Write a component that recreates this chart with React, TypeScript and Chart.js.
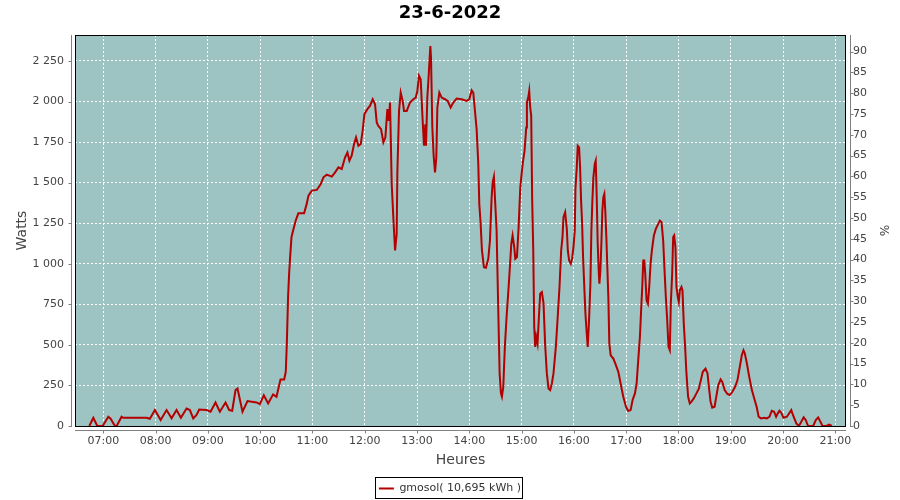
import React, { useEffect, useRef } from "react";
import { Chart, registerables } from "chart.js";

Chart.register(...registerables);

const TITLE = "23-6-2022";
const SERIES_LABEL = "gmosol( 10,695 kWh )";
const X_TITLE = "Heures";
const Y_TITLE = "Watts";
const Y2_TITLE = "%";

// time of day in decimal hours
const HOURS = [
  6.733, 6.809, 6.885, 6.987, 7.096, 7.14, 7.223, 7.255, 7.35, 7.38, 7.828, 7.89, 7.987, 8.096, 8.21, 8.306,
  8.401, 8.484, 8.592, 8.656, 8.72, 8.783, 8.834, 8.975, 9.051, 9.146, 9.229, 9.338, 9.408, 9.465, 9.529,
  9.567, 9.662, 9.758, 9.93, 9.994, 10.07, 10.153, 10.248, 10.312, 10.389, 10.459, 10.49, 10.51, 10.535,
  10.554, 10.573, 10.599, 10.63, 10.68, 10.73, 10.84, 10.89, 10.924, 10.987, 11.083, 11.16, 11.21, 11.274,
  11.37, 11.433, 11.497, 11.56, 11.624, 11.669, 11.707, 11.75, 11.796, 11.834, 11.879, 11.924, 11.96,
  11.994, 12.05, 12.1, 12.153, 12.197, 12.229, 12.26, 12.312, 12.357, 12.395, 12.433, 12.459, 12.484,
  12.516, 12.548, 12.58, 12.611, 12.624, 12.656, 12.688, 12.726, 12.752, 12.803, 12.866, 12.93, 12.975,
  13.006, 13.038, 13.07, 13.108, 13.134, 13.159, 13.172, 13.197, 13.223, 13.242, 13.255, 13.268, 13.293,
  13.318, 13.344, 13.369, 13.389, 13.427, 13.471, 13.535, 13.586, 13.643, 13.694, 13.758, 13.854, 13.949,
  14.0, 14.045, 14.076, 14.108, 14.14, 14.172, 14.191, 14.217, 14.242, 14.28, 14.318, 14.363, 14.395,
  14.427, 14.446, 14.471, 14.49, 14.522, 14.554, 14.58, 14.605, 14.624, 14.65, 14.68, 14.713, 14.752,
  14.784, 14.803, 14.828, 14.86, 14.879, 14.911, 14.943, 14.975, 15.0, 15.025, 15.057, 15.089, 15.102,
  15.127, 15.146, 15.165, 15.184, 15.203, 15.223, 15.242, 15.261, 15.28, 15.305, 15.331, 15.356, 15.388,
  15.42, 15.451, 15.483, 15.515, 15.547, 15.579, 15.61, 15.655, 15.687, 15.725, 15.757, 15.782, 15.801,
  15.833, 15.865, 15.884, 15.909, 15.941, 15.966, 15.992, 16.017, 16.03, 16.055, 16.074, 16.1, 16.119,
  16.138, 16.157, 16.176, 16.202, 16.221, 16.246, 16.265, 16.29, 16.316, 16.335, 16.354, 16.373, 16.399,
  16.418, 16.437, 16.456, 16.475, 16.488, 16.507, 16.526, 16.545, 16.564, 16.583, 16.602, 16.621, 16.64,
  16.659, 16.678, 16.704, 16.755, 16.793, 16.85, 16.894, 16.945, 16.996, 17.04, 17.085, 17.123, 17.168,
  17.2, 17.231, 17.263, 17.289, 17.308, 17.327, 17.346, 17.365, 17.39, 17.416, 17.441, 17.467, 17.492,
  17.53, 17.568, 17.613, 17.645, 17.677, 17.708, 17.734, 17.759, 17.785, 17.81, 17.835, 17.854, 17.88,
  17.899, 17.918, 17.943, 17.962, 17.988, 18.007, 18.026, 18.058, 18.077, 18.102, 18.128, 18.153, 18.185,
  18.217, 18.249, 18.293, 18.344, 18.39, 18.421, 18.466, 18.518, 18.556, 18.582, 18.614, 18.646, 18.691,
  18.723, 18.762, 18.807, 18.839, 18.884, 18.936, 18.981, 19.032, 19.084, 19.129, 19.174, 19.212, 19.244,
  19.27, 19.309, 19.354, 19.405, 19.45, 19.495, 19.534, 19.579, 19.643, 19.688, 19.74, 19.785, 19.83,
  19.868, 19.9, 19.932, 19.965, 20.01, 20.074, 20.125, 20.158, 20.19, 20.254, 20.305, 20.35, 20.395,
  20.434, 20.479, 20.576, 20.627, 20.672, 20.704, 20.756, 20.833, 20.878, 20.916, 20.929,
];

// power in watts
const WATTS = [
  0, 51, 0, 0, 57, 45, 0, 0, 57, 51, 51, 45, 98, 37, 98, 47,
  98, 51, 108, 98, 47, 68, 102, 98, 88, 145, 88, 145, 98, 94, 221,
  231, 88, 154, 145, 135, 190, 139, 195, 180, 287, 287, 334, 508, 805,
  938, 1041, 1164, 1205, 1266, 1311, 1311, 1369, 1420, 1451, 1455, 1492, 1533, 1549,
  1537, 1563, 1594, 1584, 1656, 1686, 1635, 1666, 1738, 1779, 1727, 1738, 1820,
  1922, 1953, 1973, 2014, 1983, 1871, 1850, 1830, 1748, 1779, 1953, 1881, 1994,
  1492, 1277, 1082, 1184, 1563, 1942, 2055, 2004, 1942, 1942, 1994, 2014, 2024,
  2065, 2158, 2137, 1881, 1727, 1860, 1727, 2024, 2158, 2270, 2342, 2270, 1840,
  1666, 1563, 1656, 1963, 2055, 2024, 2014, 2004, 1963, 1994, 2018, 2014, 2004,
  2014, 2069, 2055, 1942, 1830, 1615, 1369, 1246, 1082, 979, 975, 1031, 1143,
  1410, 1502, 1537, 1410, 1205, 713, 324, 201, 180, 242, 488, 672, 857,
  1020, 1123, 1174, 1102, 1031, 1041, 1225, 1471, 1553, 1625, 1697, 1840, 1994,
  2024, 2065, 1963, 1912, 1389, 1082, 611, 488, 549, 508, 672, 816, 826,
  754, 498, 324, 231, 221, 262, 324, 488, 652, 857, 1082, 1164, 1287,
  1318, 1215, 1082, 1020, 1000, 1031, 1102, 1205, 1461, 1594, 1727, 1717, 1594,
  1389, 1256, 1041, 836, 693, 570, 488, 652, 877, 1205, 1389, 1533, 1615,
  1635, 1410, 1123, 959, 877, 959, 1123, 1328, 1410, 1430, 1318, 1164, 979,
  795, 508, 436, 416, 385, 334, 262, 180, 119, 92, 98, 160, 201,
  262, 406, 549, 734, 857, 1020, 1020, 938, 775, 754, 857, 1000, 1082,
  1174, 1215, 1246, 1266, 1256, 1143, 959, 795, 652, 488, 467, 754, 938,
  1164, 1174, 1102, 857, 795, 764, 836, 857, 836, 631, 488, 324, 180,
  139, 150, 170, 201, 230, 272, 334, 354, 324, 242, 150, 113, 119,
  180, 252, 287, 272, 221, 197, 191, 211, 242, 283, 365, 436, 467,
  447, 385, 303, 221, 170, 119, 57, 47, 51, 47, 57, 94, 88,
  57, 78, 94, 82, 51, 57, 82, 98, 68, 16, 0, 27, 53,
  37, 0, 0, 37, 53, 33, 0, 0, 8, 4, 0,
];

const X_TICKS = [7, 8, 9, 10, 11, 12, 13, 14, 15, 16, 17, 18, 19, 20, 21];
const Y_TICKS = [0, 250, 500, 750, 1000, 1250, 1500, 1750, 2000, 2250];
const PCT_TICKS = [0, 5, 10, 15, 20, 25, 30, 35, 40, 45, 50, 55, 60, 65, 70, 75, 80, 85, 90];

const X_MIN = 6.4587;
const X_MAX = 21.2046;
const Y_MAX = 2410;
const PCT_MAX = 94.0;

const PLOT_BG = "#9DC3C2";
const LINE_COLOR = "#B30000";
const AXIS_COLOR = "#808080";
const TEXT_COLOR = "#444444";
const FONT = "DejaVu Sans";

const fmtWatts = (v: number) => {
  if (v >= 1000) {
    const th = Math.floor(v / 1000);
    const rest = String(v % 1000).padStart(3, "0");
    return `${th} ${rest}`;
  }
  return String(v);
};
const fmtHour = (v: number) => `${String(v).padStart(2, "0")}:00`;

const framePlugin = {
  id: "frame",
  beforeDraw(chart: any) {
    const { ctx, chartArea } = chart;
    const { left, top, right, bottom } = chartArea;
    ctx.save();
    ctx.fillStyle = PLOT_BG;
    ctx.fillRect(left, top, right - left, bottom - top);
    ctx.restore();
  },
  afterDraw(chart: any) {
    const { ctx, chartArea } = chart;
    const { left, top, right, bottom } = chartArea;
    ctx.save();
    // plot outline
    ctx.strokeStyle = "#000";
    ctx.lineWidth = 1;
    ctx.strokeRect(left + 0.5, top + 0.5, right - left - 1, bottom - top);

    // offset axis lines
    ctx.strokeStyle = AXIS_COLOR;
    ctx.beginPath();
    const lx = left - 3.5;
    ctx.moveTo(lx, top);
    ctx.lineTo(lx, bottom + 1);
    chart.scales.y.ticks.forEach((t: any) => {
      const py = Math.round(chart.scales.y.getPixelForValue(t.value)) + 0.5;
      ctx.moveTo(lx - 3, py);
      ctx.lineTo(lx, py);
    });
    const rx = right + 4.5;
    ctx.moveTo(rx, top);
    ctx.lineTo(rx, bottom + 1);
    chart.scales.y1.ticks.forEach((t: any) => {
      const py = Math.round(chart.scales.y1.getPixelForValue(t.value)) + 0.5;
      ctx.moveTo(rx, py);
      ctx.lineTo(rx + 3, py);
    });
    const by = bottom + 4.5;
    ctx.moveTo(left, by);
    ctx.lineTo(right, by);
    chart.scales.x.ticks.forEach((t: any) => {
      const px = Math.round(chart.scales.x.getPixelForValue(t.value)) + 0.5;
      ctx.moveTo(px, by);
      ctx.lineTo(px, by + 3);
    });
    ctx.stroke();

    // legend frame
    const hb = chart.legend && chart.legend.legendHitBoxes && chart.legend.legendHitBoxes[0];
    if (hb) {
      ctx.strokeStyle = "#000";
      const x0 = Math.round(hb.left) - 4 + 0.5;
      const x1 = Math.round(hb.left + hb.width) + 1 + 0.5;
      const y0 = Math.round(hb.top) - 6 + 0.5;
      const y1 = Math.round(hb.top + hb.height) + 4 + 0.5;
      ctx.strokeRect(x0, y0, x1 - x0, y1 - y0);
    }
    ctx.restore();
  },
};

export default function App() {
  const canvasRef = useRef<HTMLCanvasElement | null>(null);

  useEffect(() => {
    const canvas = canvasRef.current;
    if (!canvas) return;
    const points = HOURS.map((h, i) => ({ x: h, y: WATTS[i] }));
    const chart = new Chart(canvas, {
      type: "line",
      data: {
        datasets: [
          {
            label: SERIES_LABEL,
            data: points,
            borderColor: LINE_COLOR,
            backgroundColor: LINE_COLOR,
            borderWidth: 2,
            pointRadius: 0,
            tension: 0,
            fill: false,
            xAxisID: "x",
            yAxisID: "y",
          },
        ],
      },
      options: {
        responsive: false,
        animation: false,
        devicePixelRatio: 1,
        layout: { padding: { left: 0, right: 0, top: 0, bottom: -4 } },
        plugins: {
          title: {
            display: true,
            text: TITLE,
            color: "#000",
            font: { family: FONT, size: 18, weight: "bold" },
            padding: { top: 2.5, bottom: 10.9 },
          },
          legend: {
            display: true,
            position: "bottom",
            labels: {
              color: "#333",
              font: { family: FONT, size: 11 },
              boxWidth: 15,
              boxHeight: 2,
              padding: 10,
              generateLabels: () => [
                {
                  text: SERIES_LABEL,
                  fillStyle: LINE_COLOR,
                  strokeStyle: LINE_COLOR,
                  lineWidth: 0,
                  hidden: false,
                  datasetIndex: 0,
                  fontColor: "#333",
                },
              ],
            },
          },
          tooltip: { enabled: false },
        },
        scales: {
          x: {
            type: "linear",
            position: "bottom",
            min: X_MIN,
            max: X_MAX,
            afterBuildTicks: (scale: any) => {
              scale.ticks = X_TICKS.map((v) => ({ value: v }));
            },
            afterFit: (scale: any) => {
              scale.height = 47;
            },
            ticks: {
              color: TEXT_COLOR,
              font: { family: FONT, size: 11 },
              padding: 9,
              maxRotation: 0,
              autoSkip: false,
              callback: (v: any) => fmtHour(Number(v)),
            },
            grid: { color: "#ffffff", lineWidth: 1, drawTicks: false },
            border: { display: false, dash: [2, 2] },
            title: {
              display: true,
              text: X_TITLE,
              color: TEXT_COLOR,
              font: { family: FONT, size: 14 },
              padding: { top: 0, bottom: 4.6 },
            },
          },
          y: {
            type: "linear",
            position: "left",
            min: 0,
            max: Y_MAX,
            afterBuildTicks: (scale: any) => {
              scale.ticks = Y_TICKS.map((v) => ({ value: v }));
            },
            afterFit: (scale: any) => {
              scale.width = 75;
            },
            ticks: {
              color: TEXT_COLOR,
              font: { family: FONT, size: 11 },
              padding: 11,
              autoSkip: false,
              callback: (v: any) => fmtWatts(Number(v)),
            },
            grid: { color: "#ffffff", lineWidth: 1, drawTicks: false },
            border: { display: false, dash: [2, 2] },
            title: {
              display: true,
              text: Y_TITLE,
              color: TEXT_COLOR,
              font: { family: FONT, size: 14 },
              padding: { top: 13.6, bottom: 0 },
            },
          },
          y1: {
            type: "linear",
            position: "right",
            display: true,
            min: 0,
            max: PCT_MAX,
            afterBuildTicks: (scale: any) => {
              scale.ticks = PCT_TICKS.map((v) => ({ value: v }));
            },
            afterFit: (scale: any) => {
              scale.width = 54;
            },
            ticks: {
              color: TEXT_COLOR,
              font: { family: FONT, size: 11 },
              padding: 7,
              autoSkip: false,
              callback: (v: any) => String(v),
            },
            grid: { display: false, drawTicks: false },
            border: { display: false },
            title: {
              display: true,
              text: Y2_TITLE,
              color: TEXT_COLOR,
              font: { family: FONT, size: 12 },
              padding: { top: 10, bottom: 0 },
            },
          },
        },
      } as any,
      plugins: [framePlugin],
    });
    return () => chart.destroy();
  }, []);

  return (
    <div
      style={{
        position: "fixed",
        left: 0,
        top: 0,
        width: 900,
        height: 500,
        background: "#ffffff",
      }}
    >
      <canvas
        ref={canvasRef}
        width={900}
        height={500}
        style={{ display: "block", width: 900, height: 500 }}
      />
    </div>
  );
}
